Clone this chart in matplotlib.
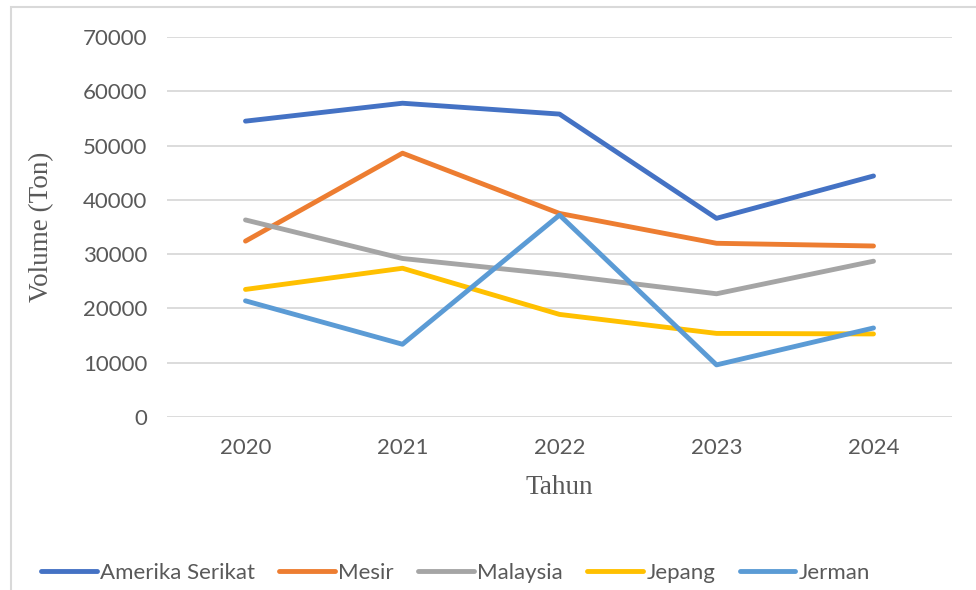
import matplotlib.pyplot as plt
from matplotlib.patches import Rectangle

# ── DATA ──────────────────────────────────────────────────────────────────────
tahun = ['2020', '2021', '2022', '2023', '2024']
amerika_serikat = [54500, 57800, 55800, 36600, 44400]
mesir = [32400, 48600, 37500, 32000, 31500]
malaysia = [36300, 29200, 26200, 22700, 28700]
jepang = [23500, 27400, 18900, 15400, 15300]
jerman = [21400, 13400, 37200, 9600, 16400]

seri = [
    ('Amerika Serikat', amerika_serikat, '#4472C4'),
    ('Mesir', mesir, '#ED7D31'),
    ('Malaysia', malaysia, '#A5A5A5'),
    ('Jepang', jepang, '#FFC000'),
    ('Jerman', jerman, '#5B9BD5'),
]

teks_abu = '#595959'
grid_abu = '#D9D9D9'

# ── PLOT ──────────────────────────────────────────────────────────────────────
fig = plt.figure(figsize=(9.76, 5.90), dpi=100)
ax = fig.add_axes([167 / 976, 1 - 417 / 590, (952 - 167) / 976, (417 - 37) / 590])

x = range(len(tahun))
for nama, nilai, warna in seri:
    ax.plot(x, nilai, color=warna, lw=3.5, solid_capstyle='round',
            solid_joinstyle='round', label=nama)

ax.set_xlim(-0.5, len(tahun) - 0.5)
ax.set_ylim(0, 70000)
ax.set_yticks(range(0, 70001, 10000))
ax.set_xticks(list(x))
ax.set_xticklabels(tahun)

ax.grid(axis='y', color=grid_abu, lw=1.3)
ax.set_axisbelow(True)
for s in ax.spines.values():
    s.set_visible(False)
ax.tick_params(length=0, labelsize=16, labelcolor=teks_abu)
ax.tick_params(axis='y', pad=14)
ax.tick_params(axis='x', pad=15)
for lbl in ax.get_xticklabels() + ax.get_yticklabels():
    lbl.set_fontfamily('Lato')

ax.set_xlabel('Tahun', family='Liberation Serif', fontsize=19.5,
              color=teks_abu, labelpad=12)
ax.set_ylabel('Volume (Ton)', family='Liberation Serif', fontsize=19.5,
              color=teks_abu, labelpad=21)

leg = fig.legend(loc='lower left', bbox_to_anchor=(21 / 976, -0.022), ncol=5,
                 frameon=False, handlelength=2.5, handletextpad=0.15,
                 columnspacing=1.1, prop={'family': 'Lato', 'size': 16})
for t in leg.get_texts():
    t.set_color(teks_abu)

# bingkai chart (terpotong di kanan/bawah)
fig.patches.append(Rectangle((11 / 976, -0.05), 1.0, 1 - 7 / 590 + 0.05,
                             transform=fig.transFigure, fill=False,
                             edgecolor=grid_abu, lw=1.5))

plt.savefig('out.png', dpi=100)
